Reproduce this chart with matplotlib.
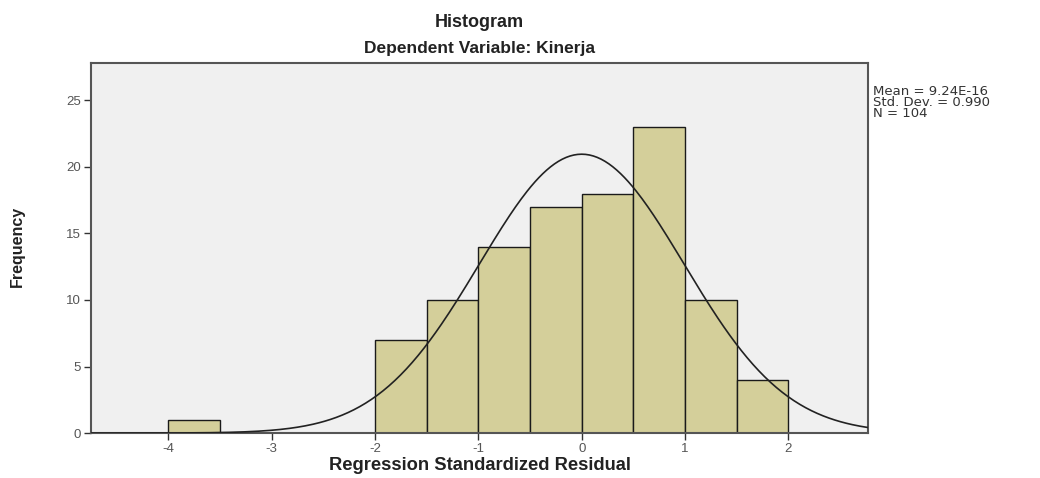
import numpy as np
import matplotlib
matplotlib.use("Agg")
import matplotlib.pyplot as plt

plt.rcParams["font.family"] = ["Liberation Sans", "DejaVu Sans"]
plt.rcParams["axes.unicode_minus"] = False

# histogram bins (left edges) and counts
bin_left = [-4.0, -3.5, -3.0, -2.5, -2.0, -1.5, -1.0, -0.5, 0.0, 0.5, 1.0, 1.5]
counts = [1, 0, 0, 0, 7, 10, 14, 17, 18, 23, 10, 4]
bin_width = 0.5
mean = 9.24e-16
std = 0.990
n = 104

fig = plt.figure(figsize=(10.4, 4.78), dpi=100)
ax = fig.add_axes([0.0875, 0.094, 0.747, 0.774])
ax.set_facecolor("#f0f0f0")

for x0, c in zip(bin_left, counts):
    if c > 0:
        ax.bar(x0, c, width=bin_width, align="edge", color="#d4cf9a",
               edgecolor="#1a1a1a", linewidth=1.0, zorder=2)

xs = np.linspace(-4.75, 2.77, 400)
pdf = np.exp(-0.5 * ((xs - mean) / std) ** 2) / (std * np.sqrt(2 * np.pi))
ax.plot(xs, n * bin_width * pdf, color="#222222", linewidth=1.2, zorder=3)

ax.set_xlim(-4.75, 2.77)
ax.set_ylim(0, 27.8)
ax.set_xticks([-4, -3, -2, -1, 0, 1, 2])
ax.set_yticks([0, 5, 10, 15, 20, 25])
ax.tick_params(axis="both", colors="#333333", labelcolor="#555555",
               labelsize=9.5, length=5, width=1, pad=2)
for s in ax.spines.values():
    s.set_color("#555555")
    s.set_linewidth(1.5)

fig.text(0.461, 0.027, "Regression Standardized Residual", ha="center",
         va="center", fontsize=13.2, fontweight="bold", color="#222222")
fig.text(0.017, 0.485, "Frequency", rotation=90, ha="center", va="center",
         fontsize=11.5, fontweight="bold", color="#222222")

fig.text(0.461, 0.953, "Histogram", ha="center", va="center",
         fontsize=13, fontweight="bold", color="#222222")
fig.text(0.461, 0.899, "Dependent Variable: Kinerja", ha="center", va="center",
         fontsize=12.5, fontweight="bold", color="#222222")

fig.text(0.839, 0.822, "Mean = 9.24E-16\nStd. Dev. = 0.990\nN = 104",
         ha="left", va="top", fontsize=9.5, color="#333333", linespacing=0.8,
         family="DejaVu Sans")

fig.savefig("out.png", dpi=100)
